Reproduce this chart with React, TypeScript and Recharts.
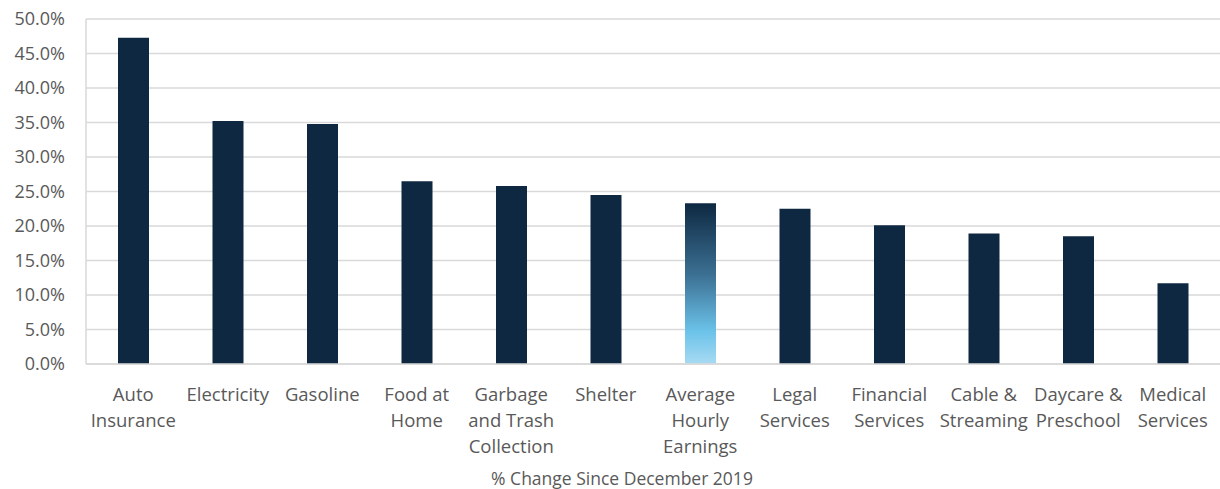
import React from 'react';
import { BarChart, Bar, XAxis, YAxis, CartesianGrid, Cell } from 'recharts';

const categories = [
  'Auto Insurance',
  'Electricity',
  'Gasoline',
  'Food at Home',
  'Garbage and Trash Collection',
  'Shelter',
  'Average Hourly Earnings',
  'Legal Services',
  'Financial Services',
  'Cable & Streaming',
  'Daycare & Preschool',
  'Medical Services',
];

const tickLines: string[][] = [
  ['Auto', 'Insurance'],
  ['Electricity'],
  ['Gasoline'],
  ['Food at', 'Home'],
  ['Garbage', 'and Trash', 'Collection'],
  ['Shelter'],
  ['Average', 'Hourly', 'Earnings'],
  ['Legal', 'Services'],
  ['Financial', 'Services'],
  ['Cable &', 'Streaming'],
  ['Daycare &', 'Preschool'],
  ['Medical', 'Services'],
];

const changes = [47.3, 35.2, 34.8, 26.5, 25.8, 24.5, 23.3, 22.5, 20.1, 18.9, 18.5, 11.7];

const yTicks = [0, 5, 10, 15, 20, 25, 30, 35, 40, 45, 50];

const highlight = 'Average Hourly Earnings';

const data = categories.map((name, i) => ({ name, value: changes[i] }));

const TEXT = '#595959';
const FONT = '"Open Sans", sans-serif';

const CategoryTick = ({ x, y, payload }: any) => {
  const idx = categories.indexOf(payload.value);
  const lines = tickLines[idx] || [payload.value];
  return (
    <text x={x} y={y + 35} textAnchor="middle" fill={TEXT} fontSize={18.5} fontFamily={FONT}>
      {lines.map((l, i) => (
        <tspan key={i} x={x} dy={i === 0 ? 0 : 26}>
          {l}
        </tspan>
      ))}
    </text>
  );
};

export default function App() {
  return (
    <div style={{ position: 'absolute', left: 0, top: 0, background: '#fff' }}>
      <BarChart
        width={1220}
        height={489}
        data={data}
        margin={{ top: 19, right: 0, bottom: 0, left: 0 }}
      >
        <defs>
          <linearGradient id="earnGrad" x1="0" y1="0" x2="0" y2="1">
            <stop offset="0%" stopColor="#0e2841" />
            <stop offset="45%" stopColor="#3c7194" />
            <stop offset="80%" stopColor="#6cc3ea" />
            <stop offset="100%" stopColor="#a8daf2" />
          </linearGradient>
        </defs>
        <CartesianGrid vertical={false} stroke="#d9d9d9" strokeWidth={1.5} />
        <XAxis
          dataKey="name"
          height={125}
          interval={0}
          tickLine={false}
          tickSize={0}
          axisLine={{ stroke: '#d9d9d9', strokeWidth: 1.5 }}
          tick={<CategoryTick />}
        />
        <YAxis
          width={86}
          domain={[0, 50]}
          ticks={yTicks}
          tickFormatter={(v) => `${v.toFixed(1)}%`}
          tickLine={false}
          tickSize={0}
          tickMargin={21}
          axisLine={{ stroke: '#d9d9d9', strokeWidth: 1.5 }}
          tick={{ fill: TEXT, fontSize: 18, fontFamily: FONT }}
        />
        <Bar dataKey="value" barSize={31} isAnimationActive={false}>
          {data.map((d, i) => (
            <Cell key={i} fill={d.name === highlight ? 'url(#earnGrad)' : '#0e2841'} />
          ))}
        </Bar>
        <text x={622} y={485} textAnchor="middle" fill={TEXT} fontSize={17.5} fontFamily={FONT}>
          % Change Since December 2019
        </text>
      </BarChart>
    </div>
  );
}
